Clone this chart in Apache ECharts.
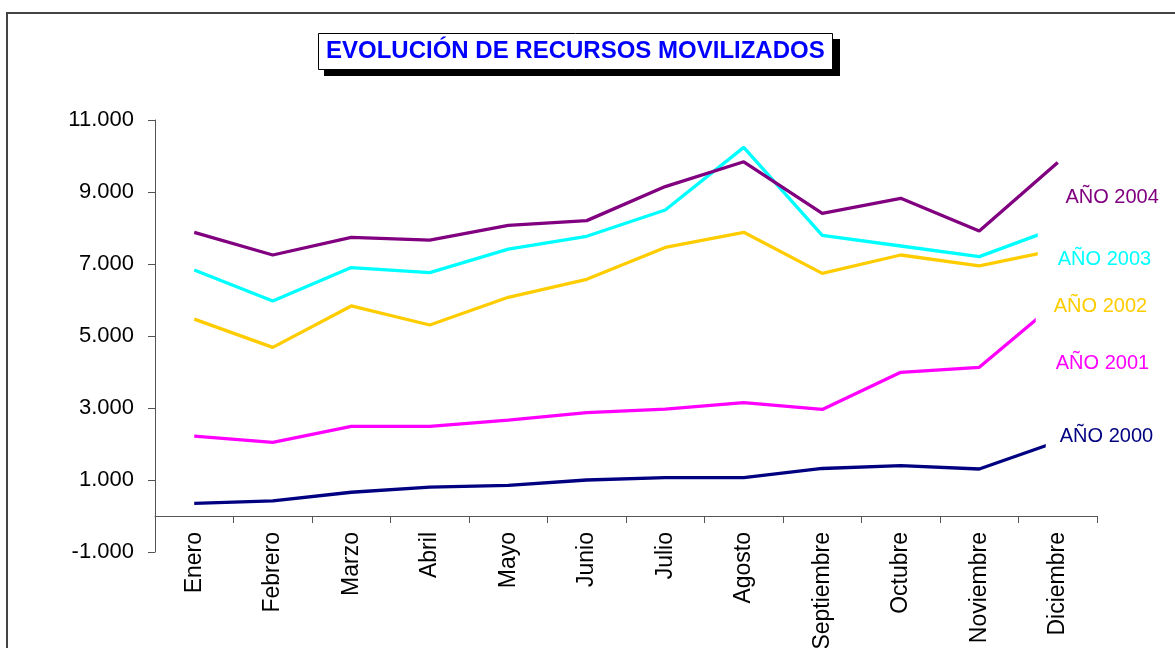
<!DOCTYPE html>
<html>
<head>
<meta charset="utf-8">
<title>Evolución de recursos movilizados</title>
<script src="https://cdn.jsdelivr.net/npm/echarts@6/dist/echarts.min.js"></script>
<style>
  html, body { margin: 0; padding: 0; background: #fff; }
  #chart { width: 1175px; height: 648px; }
</style>
</head>
<body>
<div id="chart"></div>
<script>
const months = ['Enero', 'Febrero', 'Marzo', 'Abril', 'Mayo', 'Junio', 'Julio', 'Agosto', 'Septiembre', 'Octubre', 'Noviembre', 'Diciembre']

const anio2000 = [350, 420, 660, 800, 850, 1000, 1065, 1065, 1320, 1400, 1305, 2070]
const anio2001 = [2220, 2045, 2490, 2490, 2665, 2870, 2970, 3150, 2960, 3990, 4130, 5960]
const anio2002 = [5470, 4685, 5835, 5305, 6075, 6575, 7460, 7880, 6740, 7250, 6945, 7400]
const anio2003 = [6835, 5970, 6900, 6760, 7415, 7770, 8500, 10240, 7795, 7500, 7205, 8010]
const anio2004 = [7880, 7250, 7740, 7665, 8075, 8205, 9150, 9840, 8405, 8825, 7915, 9820]

const yTicks = { min: -1000, max: 11000, interval: 2000 }

const font = 'Liberation Sans, Arial, sans-serif'

// "11.000" style numbers
function fmt(v) {
	const s = String(Math.abs(v)).replace(/\B(?=(\d{3})+(?!\d))/g, '.')
	return (v < 0 ? '-' : '') + s
}

// end label with white box (the box hides the tail of the line like in Excel)
function endLabel(text, color, offset, padding) {
	return {
		show: true,
		formatter: text,
		color: color,
		fontFamily: font,
		fontSize: 20,
		lineHeight: 20,
		backgroundColor: '#fff',
		distance: 0,
		offset: offset,
		padding: padding
	}
}

function line(name, data, color, label) {
	return {
		name: name,
		type: 'line',
		data: data,
		symbol: 'none',
		lineStyle: { color: color, width: 3.3 },
		itemStyle: { color: color },
		endLabel: label
	}
}

const chart = echarts.init(document.querySelector('#chart'))
chart.setOption({
	animation: false,
	textStyle: { fontFamily: font },
	title: {
		text: 'EVOLUCIÓN DE RECURSOS MOVILIZADOS',
		left: 318,
		top: 33,
		z: 10,
		padding: [6, 8, 6, 8],
		backgroundColor: '#fff',
		borderColor: '#000',
		borderWidth: 1,
		textStyle: {
			color: '#0000FF',
			fontFamily: font,
			fontWeight: 'bold',
			fontSize: 24,
			lineHeight: 25
		}
	},
	graphic: [
		{
			// page frame
			type: 'rect',
			z: -10,
			shape: { x: 7, y: 13, width: 1200, height: 700 },
			style: { fill: null, stroke: '#444', lineWidth: 2 }
		},
		{
			// title drop shadow
			type: 'rect',
			z: 1,
			shape: { x: 324, y: 39, width: 516, height: 37 },
			style: { fill: '#000' }
		}
	],
	grid: { left: 155, right: 78, top: 120, bottom: 96, outerBoundsMode: 'none', containLabel: false },
	xAxis: {
		type: 'category',
		data: months,
		boundaryGap: true,
		axisLine: { onZero: true, lineStyle: { color: '#555', width: 1 } },
		axisTick: { show: true, length: 7, lineStyle: { color: '#555' } },
		axisLabel: {
			rotate: 90,
			margin: -20,
			color: '#000',
			fontSize: 23,
			fontFamily: font,
			interval: 0
		},
		splitLine: { show: false }
	},
	yAxis: {
		type: 'value',
		min: yTicks.min,
		max: yTicks.max,
		interval: yTicks.interval,
		axisLine: { show: true, onZero: false, lineStyle: { color: '#555', width: 1 } },
		axisTick: { show: true, length: 7, lineStyle: { color: '#555' } },
		axisLabel: {
			margin: 21,
			color: '#000',
			fontSize: 22,
			fontFamily: font,
			formatter: fmt
		},
		splitLine: { show: false }
	},
	series: [
		line('AÑO 2000', anio2000, '#000080', endLabel('AÑO 2000', '#000080', [-12, -4.5], [8, 5, 8, 14])),
		line('AÑO 2001', anio2001, '#FF00FF', endLabel('AÑO 2001', '#FF00FF', [-22, 61.6], [17, 5, 17, 20])),
		line('AÑO 2002', anio2002, '#FFCC00', endLabel('AÑO 2002', '#FFCC00', [-22, 56.4], [22, 5, 22, 18])),
		line('AÑO 2003', anio2003, '#00FFFF', endLabel('AÑO 2003', '#00FFFF', [-20, 31.4], [25, 5, 25, 20])),
		line('AÑO 2004', anio2004, '#800080', endLabel('AÑO 2004', '#800080', [5.7, 35.5], [2, 2, 2, 2]))
	]
})
</script>
</body>
</html>
